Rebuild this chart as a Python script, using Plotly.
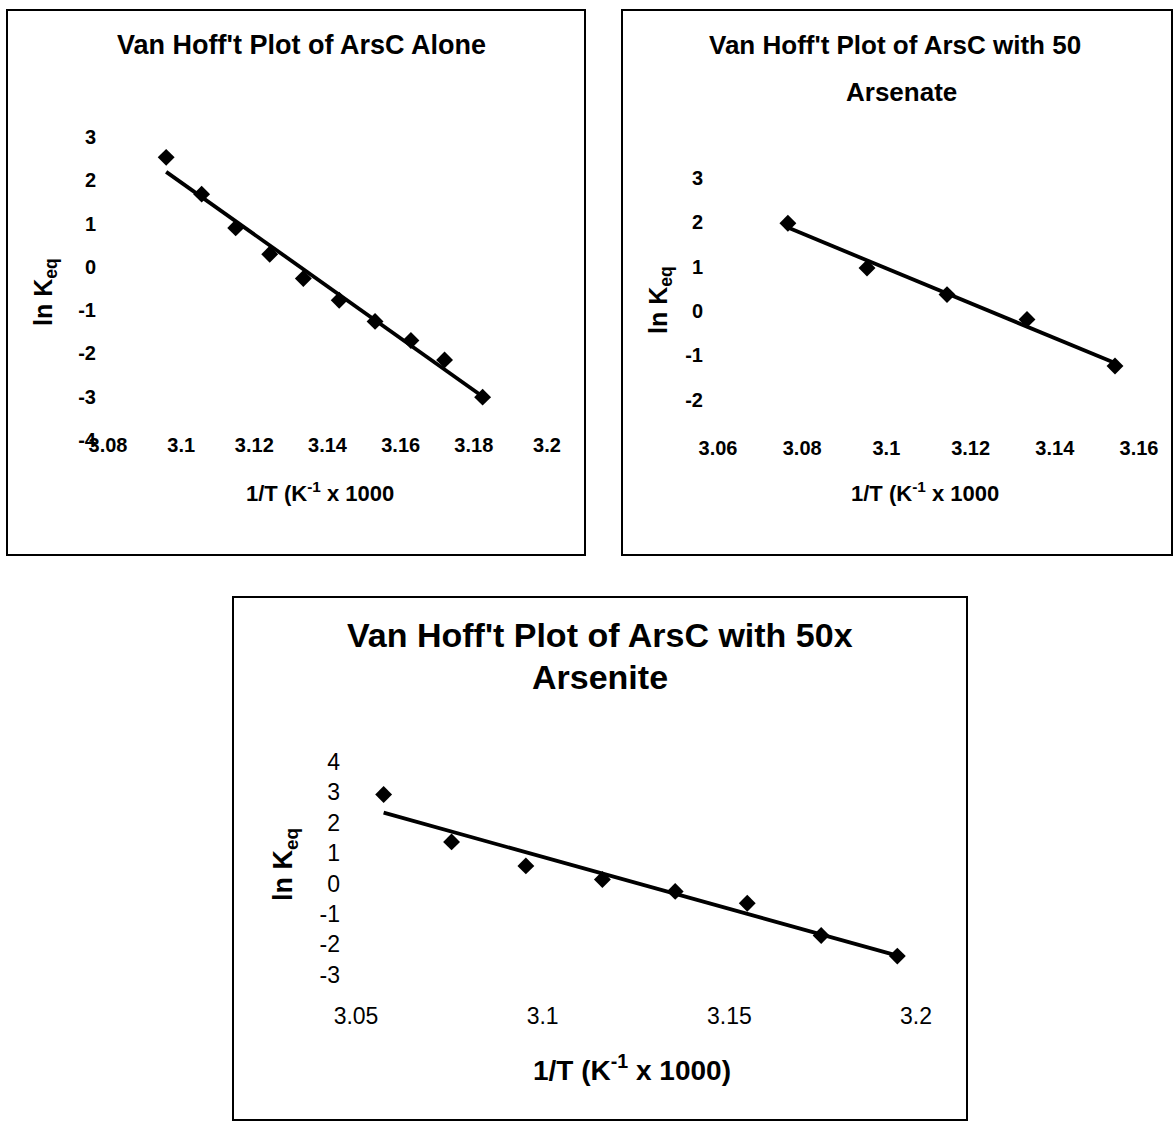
import numpy as np
import plotly.graph_objects as go

W, H = 1175, 1123

# ---------------- data ----------------
# Panel 1: ArsC alone
x1 = [3.0959, 3.1056, 3.1149, 3.1242, 3.1334, 3.1432, 3.1530, 3.1628, 3.1720, 3.1824]
y1 = [2.53, 1.68, 0.90, 0.29, -0.27, -0.77, -1.26, -1.70, -2.15, -3.01]
x1_ticks = [3.08, 3.10, 3.12, 3.14, 3.16, 3.18, 3.20]
x1_labels = ["3.08", "3.1", "3.12", "3.14", "3.16", "3.18", "3.2"]
y1_ticks = [-4, -3, -2, -1, 0, 1, 2, 3]
y1_labels = ["-4", "-3", "-2", "-1", "0", "1", "2", "3"]

# Panel 2: ArsC with 50x Arsenate
x2 = [3.0766, 3.0954, 3.1144, 3.1334, 3.1543]
y2 = [1.98, 0.97, 0.37, -0.19, -1.24]
x2_ticks = [3.06, 3.08, 3.10, 3.12, 3.14, 3.16]
x2_labels = ["3.06", "3.08", "3.1", "3.12", "3.14", "3.16"]
y2_ticks = [-2, -1, 0, 1, 2, 3]
y2_labels = ["-2", "-1", "0", "1", "2", "3"]

# Panel 3: ArsC with 50x Arsenite
x3 = [3.0574, 3.0756, 3.0955, 3.1160, 3.1355, 3.1548, 3.1746, 3.1950]
y3 = [2.93, 1.37, 0.58, 0.13, -0.26, -0.65, -1.71, -2.39]
x3_ticks = [3.05, 3.10, 3.15, 3.20]
x3_labels = ["3.05", "3.1", "3.15", "3.2"]
y3_ticks = [-3, -2, -1, 0, 1, 2, 3, 4]
y3_labels = ["-3", "-2", "-1", "0", "1", "2", "3", "4"]

titles = [["Van Hoff't Plot of ArsC Alone"],
          ["Van Hoff't Plot of ArsC with 50", "Arsenate"],
          ["Van Hoff't Plot of ArsC with 50x", "Arsenite"]]
xtitles = ["1/T (K<sup>-1</sup> x 1000", "1/T (K<sup>-1</sup> x 1000", "1/T (K<sup>-1</sup> x 1000)"]
ytitle = "ln K<sub>eq</sub>"


def px(x):
    return x / W


def py(y):
    return 1 - y / H


ARIAL = "Liberation Sans, Arial, Helvetica, sans-serif"

fig = go.Figure()

panels = [
    dict(x=x1, y=y1, xr=[3.08, 3.20], yr=[-4, 3], dom_x=(108, 547), dom_y=(137, 440),
         xt=x1_ticks, xl=x1_labels, yt=y1_ticks, yl=y1_labels, tfs=20, tw="bold",
         xso=-9, yso=11),
    dict(x=x2, y=y2, xr=[3.06, 3.16], yr=[-3, 3], dom_x=(718, 1139), dom_y=(178, 444),
         xt=x2_ticks, xl=x2_labels, yt=y2_ticks, yl=y2_labels, tfs=20, tw="bold",
         xso=-10, yso=14),
    dict(x=x3, y=y3, xr=[3.05, 3.20], yr=[-4, 4], dom_x=(356, 916), dom_y=(762, 1005),
         xt=x3_ticks, xl=x3_labels, yt=y3_ticks, yl=y3_labels, tfs=23, tw="normal",
         xso=-5, yso=15),
]

for i, p in enumerate(panels):
    n = "" if i == 0 else str(i + 1)
    xa, ya = "x" + n, "y" + n
    # data markers
    fig.add_trace(go.Scatter(x=p["x"], y=p["y"], mode="markers", xaxis=xa, yaxis=ya,
                             marker=dict(symbol="diamond", size=13, color="black"),
                             showlegend=False, cliponaxis=False))
    # linear trendline
    k, b = np.polyfit(p["x"], p["y"], 1)
    xs = [min(p["x"]), max(p["x"])]
    fig.add_trace(go.Scatter(x=xs, y=[k * v + b for v in xs], mode="lines", xaxis=xa, yaxis=ya,
                             line=dict(color="black", width=3.8), showlegend=False,
                             cliponaxis=False))
    axfont = dict(family=ARIAL, size=p["tfs"], color="black", weight=p["tw"])
    fig.update_layout(**{
        "xaxis" + n: dict(domain=[px(p["dom_x"][0]), px(p["dom_x"][1])], range=p["xr"],
                          anchor=ya, tickvals=p["xt"], ticktext=p["xl"], showgrid=False,
                          zeroline=False, showline=False, ticks="", tickfont=axfont,
                          ticklabelstandoff=p["xso"], fixedrange=True, automargin=False),
        "yaxis" + n: dict(domain=[py(p["dom_y"][1]), py(p["dom_y"][0])], range=p["yr"],
                          anchor=xa, tickvals=p["yt"], ticktext=p["yl"], showgrid=False,
                          zeroline=False, showline=False, ticks="", tickfont=axfont,
                          ticklabelstandoff=p["yso"], fixedrange=True, automargin=False),
    })

# frames
frames = [(7, 10, 585, 555), (622, 10, 1172, 555), (233, 597, 967, 1120)]
shapes = []
for (l, t, r, btm) in frames:
    shapes.append(dict(type="rect", xref="paper", yref="paper", x0=px(l), x1=px(r),
                       y0=py(btm), y1=py(t), line=dict(color="black", width=2),
                       fillcolor="rgba(0,0,0,0)"))

ann = []


def text(x, y, s, size, angle=0, weight="bold"):
    ann.append(dict(x=px(x), y=py(y), xref="paper", yref="paper", text=s, showarrow=False,
                    xanchor="center", yanchor="middle", textangle=angle,
                    font=dict(family=ARIAL, size=size, color="black", weight=weight)))


# titles
text(301, 45, titles[0][0], 27)
text(895, 45, titles[1][0], 26)
text(901, 92, titles[1][1], 26)
text(600, 635, titles[2][0], 34)
text(600, 677, titles[2][1], 34)
# x axis titles
text(320, 492, xtitles[0], 22)
text(925, 492, xtitles[1], 22)
text(632, 1068, xtitles[2], 28)
# y axis titles
text(45, 292, ytitle, 25, angle=-90)
text(660, 300, ytitle, 25, angle=-90)
text(285, 865, ytitle, 27, angle=-90)

fig.update_layout(width=W, height=H,
                  margin=dict(l=0, r=0, t=0, b=0, pad=0, autoexpand=False),
                  paper_bgcolor="white", plot_bgcolor="white",
                  shapes=shapes, annotations=ann, showlegend=False)

fig.write_html("out.html", config={"displayModeBar": False},
               post_script="document.body.style.margin='0';document.body.style.overflow='hidden';")
